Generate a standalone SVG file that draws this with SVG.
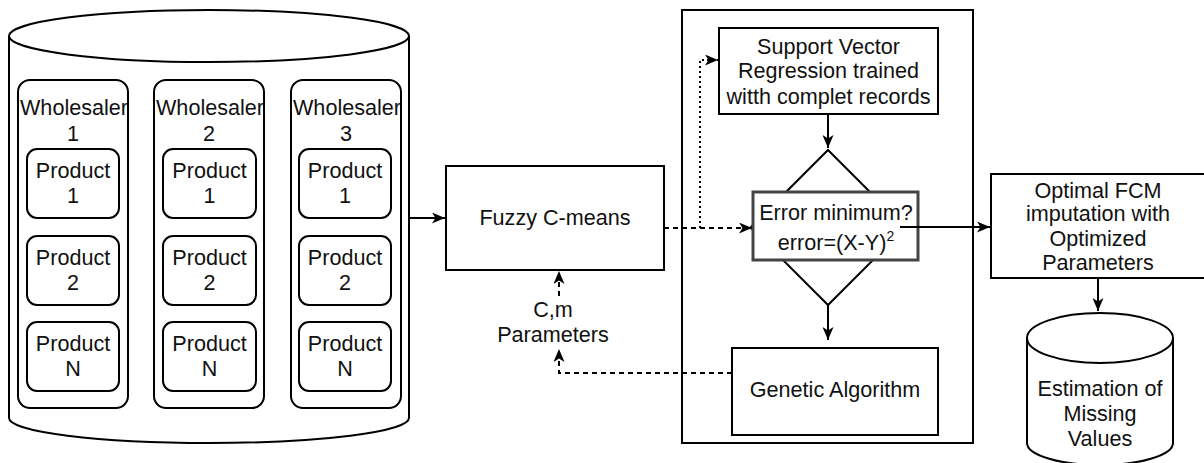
<svg xmlns="http://www.w3.org/2000/svg" width="1204" height="463" viewBox="0 0 1204 463">
<style>
.s{fill:#fff;stroke:#000;stroke-width:2}
.t{font-family:"Liberation Sans",Arial,sans-serif;font-size:21.6px;fill:#111;text-anchor:middle}
.c{fill:none;stroke:#000;stroke-width:2}
.d{stroke-dasharray:5,4}
.o{stroke-dasharray:2,3}
</style>
<defs>
<marker id="a" viewBox="0 0 13 11" refX="13" refY="5.5" markerWidth="13" markerHeight="11" markerUnits="userSpaceOnUse" orient="auto">
<path d="M0,0 L13,5.5 L0,11 L3.5,5.5 Z" fill="#000"/>
</marker>
</defs>
<rect width="1204" height="463" fill="#fff"/>
<g id="database">
<path class="s" d="M9,36 L9,418 A200,25 0 0 0 409,418 L409,36"/>
<ellipse class="s" cx="209" cy="36" rx="200" ry="26"/>
</g>
<g id="wholesaler1">
<rect class="s" x="18" y="80" width="110" height="328" rx="12"/>
<text class="t" x="74" y="115">Wholesaler</text><text class="t" x="73" y="141">1</text>
</g>
<g id="wholesaler2">
<rect class="s" x="154" y="80" width="110" height="328" rx="12"/>
<text class="t" x="210" y="115">Wholesaler</text><text class="t" x="209" y="141">2</text>
</g>
<g id="wholesaler3">
<rect class="s" x="291" y="80" width="110" height="328" rx="12"/>
<text class="t" x="347" y="115">Wholesaler</text><text class="t" x="346" y="141">3</text>
</g>
<g id="w1p1"><rect class="s" x="27" y="149" width="92" height="69" rx="10"/><text class="t" x="73" y="177.5">Product</text><text class="t" x="73" y="202.5">1</text></g>
<g id="w1p2"><rect class="s" x="27" y="236" width="92" height="69" rx="10"/><text class="t" x="73" y="264.5">Product</text><text class="t" x="73" y="289.5">2</text></g>
<g id="w1pn"><rect class="s" x="27" y="322" width="92" height="69" rx="10"/><text class="t" x="73" y="350.5">Product</text><text class="t" x="73" y="375.5">N</text></g>
<g id="w2p1"><rect class="s" x="163" y="149" width="93" height="69" rx="10"/><text class="t" x="209.5" y="177.5">Product</text><text class="t" x="209.5" y="202.5">1</text></g>
<g id="w2p2"><rect class="s" x="163" y="236" width="93" height="69" rx="10"/><text class="t" x="209.5" y="264.5">Product</text><text class="t" x="209.5" y="289.5">2</text></g>
<g id="w2pn"><rect class="s" x="163" y="322" width="93" height="69" rx="10"/><text class="t" x="209.5" y="350.5">Product</text><text class="t" x="209.5" y="375.5">N</text></g>
<g id="w3p1"><rect class="s" x="299" y="149" width="92" height="69" rx="10"/><text class="t" x="345" y="177.5">Product</text><text class="t" x="345" y="202.5">1</text></g>
<g id="w3p2"><rect class="s" x="299" y="236" width="92" height="69" rx="10"/><text class="t" x="345" y="264.5">Product</text><text class="t" x="345" y="289.5">2</text></g>
<g id="w3pn"><rect class="s" x="299" y="322" width="92" height="69" rx="10"/><text class="t" x="345" y="350.5">Product</text><text class="t" x="345" y="375.5">N</text></g>
<g id="fcm">
<rect class="s" x="446" y="166" width="218" height="104"/>
<text class="t" x="555" y="224.5">Fuzzy C-means</text>
</g>
<g id="optimizer">
<rect class="s" x="682" y="10" width="291" height="433"/>
</g>
<g id="svr">
<rect class="s" x="719" y="28" width="219" height="86"/>
<text class="t" x="828.5" y="53.5">Support Vector</text>
<text class="t" x="828.5" y="78">Regression trained</text>
<text class="t" x="828.5" y="103.5">witth complet records</text>
</g>
<g id="decision">
<path class="s" d="M828,150 L905.5,227.5 L828,305 L750.5,227.5 Z"/>
<rect x="753" y="192" width="165" height="68" fill="#fff" stroke="#444" stroke-width="3"/>
<text class="t" x="836" y="219.5">Error minimum?</text>
<text class="t" x="836" y="249.5">error=(X-Y)<tspan font-size="14" dy="-9">2</tspan></text>
</g>
<g id="ga">
<rect class="s" x="732" y="348" width="206" height="87"/>
<text class="t" x="835" y="396.5">Genetic Algorithm</text>
</g>
<g id="params">
<text class="t" x="553" y="316.5">C,m</text>
<text class="t" x="553" y="341.5">Parameters</text>
</g>
<g id="optimal">
<rect class="s" x="991" y="174" width="216" height="104"/>
<text class="t" x="1098" y="197.5">Optimal FCM</text>
<text class="t" x="1098" y="221">imputation with</text>
<text class="t" x="1098" y="245.5">Optimized</text>
<text class="t" x="1098" y="270">Parameters</text>
</g>
<g id="estimation">
<path class="s" d="M1027,338 L1027,443 A73,22 0 0 0 1173,443 L1173,338"/>
<ellipse class="s" cx="1100" cy="338" rx="73" ry="25"/>
<text class="t" x="1100" y="395.5">Estimation of</text>
<text class="t" x="1100" y="420.5">Missing</text>
<text class="t" x="1100" y="445.5">Values</text>
</g>
<g id="connectors">
<path class="c" d="M409,218 L445,218" marker-end="url(#a)"/>
<path class="c d" d="M664,228 L752,228" marker-end="url(#a)"/>
<path class="c o" d="M700,228 L700,60 L718,60" marker-end="url(#a)"/>
<path class="c" d="M828,114 L828,148" marker-end="url(#a)"/>
<path class="c" d="M828,305 L828,340" marker-end="url(#a)"/>
<path class="c" d="M900,227 L990,227" marker-end="url(#a)"/>
<path class="c d" d="M732,373 L559,373 L559,349" marker-end="url(#a)"/>
<path class="c d" d="M559,296 L559,271" marker-end="url(#a)"/>
<path class="c" d="M1098,278 L1098,311" marker-end="url(#a)"/>
</g>
</svg>
